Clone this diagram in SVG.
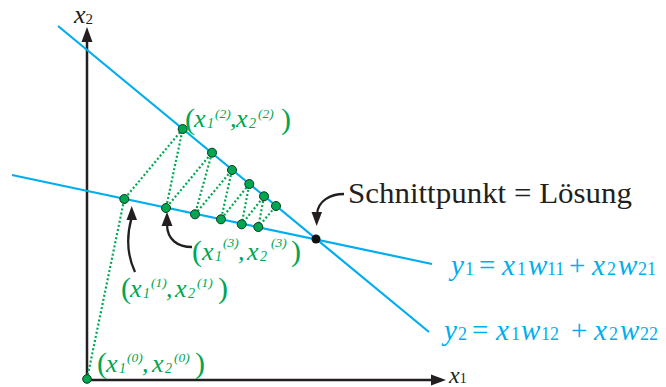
<svg xmlns="http://www.w3.org/2000/svg" width="666" height="387" viewBox="0 0 666 387">
<style>
.ax{stroke:#231f20;stroke-width:2.5;fill:none}
.ah{fill:#231f20}
.ln{stroke:#00aeef;stroke-width:2.2;fill:none}
.dt{stroke:#00a651;stroke-width:2.2;fill:none;stroke-dasharray:2 2.2}
.pt{fill:#00a651;stroke:#0a3a1a;stroke-width:1}
.cv{stroke:#231f20;stroke-width:2.3;fill:none}
.g{fill:#00a651;font-family:"Liberation Serif",serif;font-style:italic}
.b{fill:#00aeef;font-family:"Liberation Serif",serif;font-style:italic;font-size:29px}
.k{fill:#231f20;font-family:"Liberation Serif",serif}
.p{font-size:30px;font-style:normal}
.x{font-size:26px}
.s{font-size:14px}
.u{font-size:13.5px}
.bs{font-size:18px;font-style:normal}
.op{font-style:normal}
</style>
<g id="axes">
<line class="ax" x1="87" y1="381" x2="87" y2="40"/>
<polygon class="ah" points="87,27 81.5,42 92.5,42"/>
<line class="ax" x1="86" y1="380" x2="433" y2="380"/>
<polygon class="ah" points="446,380 431,374.5 431,385.5"/>
<text class="k" font-style="italic" font-size="26" x="74" y="23">x<tspan font-size="15" font-style="normal" dy="1">2</tspan></text>
<text class="k" font-style="italic" font-size="24" x="449" y="383">x<tspan font-size="14" font-style="normal">1</tspan></text>
</g>
<g id="lines">
<line class="ln" x1="58" y1="26" x2="429" y2="332"/>
<line class="ln" x1="12" y1="175" x2="432" y2="264"/>
</g>
<g id="connectors">
<polyline class="dt" points="87,379 124.3,199 182.7,129 166,208 212,152.7 195,214.3 232,170 221,219.3 249.3,184 241.7,224.3 264,196.3 258.3,227 276,206"/>
<path class="cv" d="M135,272 C127,255 126,238 131.5,218"/>
<polygon class="ah" points="131.7,206 126.5,220 137,220"/>
<path class="cv" d="M192,247 C178,247 167,240 167,224"/>
<polygon class="ah" points="167,212 161.5,226 172.5,226"/>
<path class="cv" d="M344,194 C330,194 318,201 317,214"/>
<polygon class="ah" points="316.7,226 311.5,212 322,212"/>
</g>
<g id="points">
<circle class="pt" cx="87" cy="379" r="4.3"/>
<circle class="pt" cx="124.3" cy="199" r="4.5"/>
<circle class="pt" cx="182.7" cy="129" r="4.5"/>
<circle class="pt" cx="166" cy="208" r="4.5"/>
<circle class="pt" cx="212" cy="152.7" r="4.5"/>
<circle class="pt" cx="195" cy="214.3" r="4.5"/>
<circle class="pt" cx="232" cy="170" r="4.5"/>
<circle class="pt" cx="221" cy="219.3" r="4.5"/>
<circle class="pt" cx="249.3" cy="184" r="4.5"/>
<circle class="pt" cx="241.7" cy="224.3" r="4.5"/>
<circle class="pt" cx="264" cy="196.3" r="4.5"/>
<circle class="pt" cx="258.3" cy="227" r="4.5"/>
<circle class="pt" cx="276" cy="206" r="4.5"/>
<circle cx="316" cy="239" r="4.5" fill="#111"/>
</g>
<g id="label-x2">
<text class="g"><tspan class="p" x="185" y="129">(</tspan><tspan class="x" x="194" y="127">x</tspan><tspan class="s" x="207" y="128">1</tspan><tspan class="u" x="215" y="118">(2)</tspan><tspan class="x" x="230" y="127">,</tspan><tspan class="x" x="236" y="127">x</tspan><tspan class="s" x="249" y="128">2</tspan><tspan class="u" x="258" y="118">(2)</tspan><tspan class="p" x="281" y="129">)</tspan></text>
</g>
<g id="label-x3">
<text class="g"><tspan class="p" x="192" y="261">(</tspan><tspan class="x" x="202" y="260">x</tspan><tspan class="s" x="215" y="261">1</tspan><tspan class="u" x="223" y="247">(3)</tspan><tspan class="x" x="238" y="260">,</tspan><tspan class="x" x="247" y="260">x</tspan><tspan class="s" x="260" y="261">2</tspan><tspan class="u" x="271" y="247">(3)</tspan><tspan class="p" x="291" y="261">)</tspan></text>
</g>
<g id="label-x1">
<text class="g"><tspan class="p" x="121" y="298">(</tspan><tspan class="x" x="130" y="297">x</tspan><tspan class="s" x="143" y="298">1</tspan><tspan class="u" x="151" y="287">(1)</tspan><tspan class="x" x="166" y="297">,</tspan><tspan class="x" x="175" y="297">x</tspan><tspan class="s" x="188" y="298">2</tspan><tspan class="u" x="197" y="287">(1)</tspan><tspan class="p" x="218" y="298">)</tspan></text>
</g>
<g id="label-x0">
<text class="g"><tspan class="p" x="97" y="373">(</tspan><tspan class="x" x="106" y="372">x</tspan><tspan class="s" x="119" y="373">1</tspan><tspan class="u" x="127" y="362">(0)</tspan><tspan class="x" x="142" y="372">,</tspan><tspan class="x" x="152" y="372">x</tspan><tspan class="s" x="165" y="373">2</tspan><tspan class="u" x="174" y="362">(0)</tspan><tspan class="p" x="195" y="373">)</tspan></text>
</g>
<g id="label-solution">
<text class="k" font-size="30" x="348" y="203" textLength="284" lengthAdjust="spacingAndGlyphs">Schnittpunkt = Lösung</text>
</g>
<g id="eq1">
<text class="b"><tspan x="451" y="275">y</tspan><tspan class="bs" x="465" y="275">1</tspan><tspan class="op" x="479" y="275">=</tspan><tspan x="502" y="275">x</tspan><tspan class="bs" x="517" y="275">1</tspan><tspan x="528" y="275">w</tspan><tspan class="bs" x="547" y="275">11</tspan><tspan class="op" x="569" y="275">+</tspan><tspan x="592" y="275">x</tspan><tspan class="bs" x="607" y="275">2</tspan><tspan x="618" y="275">w</tspan><tspan class="bs" x="638" y="275">21</tspan></text>
</g>
<g id="eq2">
<text class="b"><tspan x="444" y="340">y</tspan><tspan class="bs" x="458" y="340">2</tspan><tspan class="op" x="472" y="340">=</tspan><tspan x="496" y="340">x</tspan><tspan class="bs" x="511" y="340">1</tspan><tspan x="521" y="340">w</tspan><tspan class="bs" x="541" y="340">12</tspan><tspan class="op" x="571" y="340">+</tspan><tspan x="594" y="340">x</tspan><tspan class="bs" x="609" y="340">2</tspan><tspan x="620" y="340">w</tspan><tspan class="bs" x="640" y="340">22</tspan></text>
</g>
</svg>
